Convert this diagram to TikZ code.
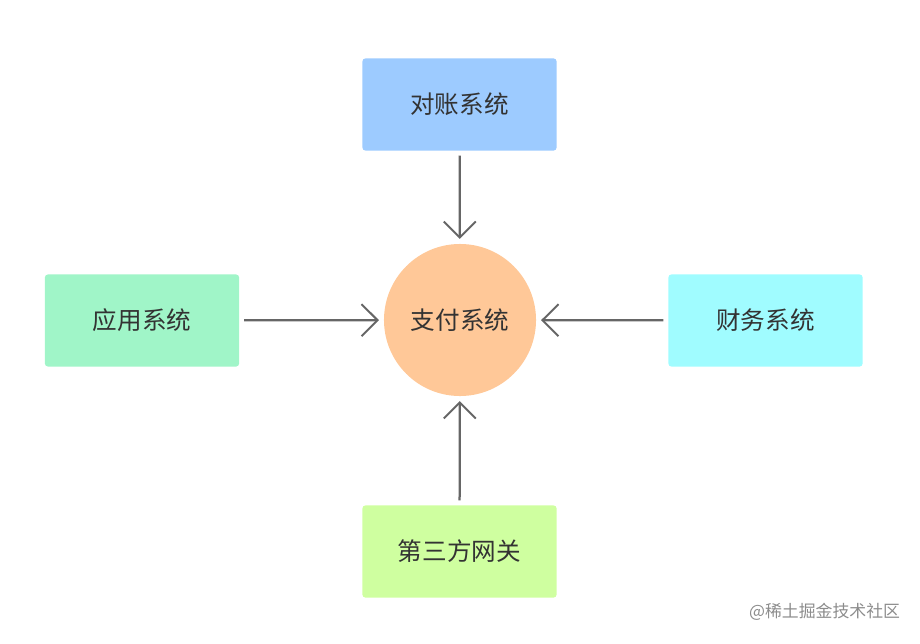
\documentclass[tikz,border=0pt]{standalone}
\usepackage{fontspec}
\newfontfamily\cjk{Noto Sans CJK SC}
\usetikzlibrary{arrows.meta}
\definecolor{duizhang}{HTML}{9DCBFF}
\definecolor{yingyong}{HTML}{A0F5C8}
\definecolor{caiwu}{HTML}{A0FCFF}
\definecolor{wangguan}{HTML}{CFFFA0}
\definecolor{zhifu}{HTML}{FFC898}
\definecolor{jiantou}{HTML}{666666}
\tikzstyle{sys} = [rectangle, rounded corners=2pt, minimum width=4.85cm, minimum height=2.3cm, align=center, font=\cjk\fontsize{17.5}{20}\selectfont, text=black!80]
\tikzstyle{arrow} = [draw=jiantou, line width=1.6pt, shorten <=0.12cm, shorten >=0.12cm, -{Straight Barb[length=4mm, width=8mm, line width=1.4pt]}]

\begin{document}
\begin{tikzpicture}[x=0.025cm, y=-0.025cm]
        \useasboundingbox (0,0) rectangle (920,644);
        
        \node (pay) [circle, fill=zhifu, minimum size=3.8cm, font=\cjk\fontsize{17.5}{20}\selectfont, text=black!80] at (460,320) {支付系统};
        \node (check) [sys, fill=duizhang] at (459.5,104.5) {对账系统};
        \node (app) [sys, fill=yingyong] at (142,320.5) {应用系统};
        \node (fin) [sys, fill=caiwu] at (765.5,320.5) {财务系统};
        \node (gate) [sys, fill=wangguan] at (459.5,551.5) {第三方网关};
        
        \draw[arrow] (check) -- (pay);
        \draw[arrow] (app) -- (pay);
        \draw[arrow] (fin) -- (pay);
        \draw[arrow] (gate) -- (pay);
        
        \node (mark) [anchor=east, text=black!45, font=\cjk\fontsize{12}{14}\selectfont] at (905,612) {@稀土掘金技术社区};
        
    \end{tikzpicture}
\end{document}
